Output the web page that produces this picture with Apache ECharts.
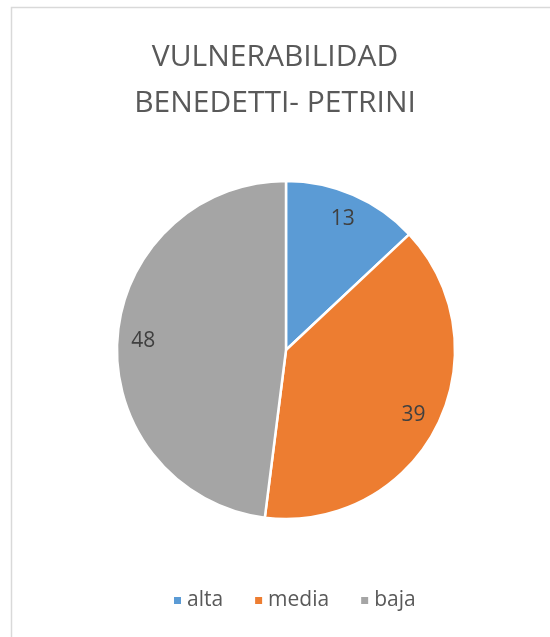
<!DOCTYPE html>
<html>
<head>
<meta charset="utf-8">
<script src="https://cdn.jsdelivr.net/npm/echarts@6/dist/echarts.min.js"></script>
<style>html,body{margin:0;padding:0;background:#fff}#c{width:550px;height:637px}</style>
</head>
<body>
<div id="c"></div>
<script>
const titleLines = ['VULNERABILIDAD', 'BENEDETTI- PETRINI'];
const categories = ['alta', 'media', 'baja'];
const values = [13, 39, 48];
const colors = ['#5B9BD5', '#ED7D31', '#A5A5A5'];

const chart = echarts.init(document.getElementById('c'), null, {renderer: 'canvas'});
const dataMain = categories.map((c, i) => ({name: c, value: values[i], itemStyle: {color: colors[i]}}));
const center = [286, 350];
chart.setOption({
  animation: false,
  graphic: [{
    type: 'rect', shape: {x: 11.5, y: 7.5, width: 560, height: 660},
    style: {fill: 'none', stroke: '#D9D9D9', lineWidth: 1.5}, silent: true, z: -1
  }],
  title: {
    text: titleLines.join('\n'),
    left: 'center', top: 29,
    textStyle: {fontFamily: 'Open Sans', fontWeight: 'normal', fontSize: 30, color: '#595959', lineHeight: 46}
  },
  legend: {
    data: categories, bottom: 21, left: 167,
    icon: 'rect', itemWidth: 9, itemHeight: 9, itemGap: 30,
    textStyle: {fontFamily: 'Open Sans', fontSize: 21, color: '#595959'}
  },
  series: [{
    type: 'pie', center: center, radius: 169, startAngle: 90, clockwise: true,
    data: dataMain,
    itemStyle: {borderColor: '#fff', borderWidth: 2.5},
    label: {show: false}, labelLine: {show: false}, emphasis: {disabled: true}
  }, {
    type: 'pie', center: center, radius: [130, 150], startAngle: 90, clockwise: true,
    silent: true, legendHoverLink: false,
    data: categories.map((c, i) => ({name: c, value: values[i]})),
    itemStyle: {color: 'rgba(0,0,0,0)', borderWidth: 0},
    label: {show: true, position: 'inside', formatter: '{c}', fontFamily: 'Open Sans', fontSize: 21, color: '#404040'},
    labelLine: {show: false}, emphasis: {disabled: true}
  }]
});
</script>
</body>
</html>
